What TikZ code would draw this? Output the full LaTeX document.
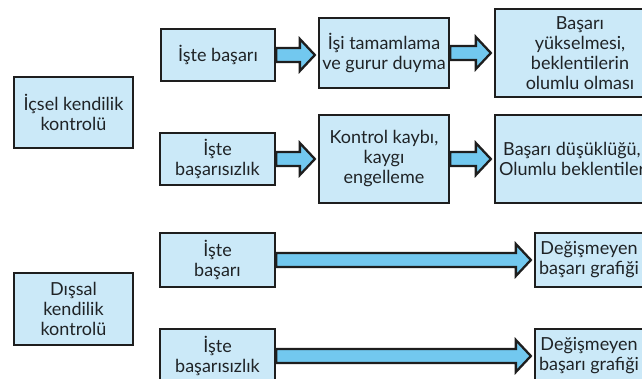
\documentclass[tikz,border=0pt]{standalone}
\usepackage{fontspec}
\setmainfont{Lato}
\usetikzlibrary{calc}
\definecolor{boxfill}{HTML}{CBE9F8}
\definecolor{arrfill}{HTML}{72C8EF}
\definecolor{edge}{HTML}{1E1E1E}
\definecolor{ink}{HTML}{1F2326}
\tikzset{
  txt/.style={font=\fontsize{18}{20}\selectfont, text=ink, align=center},
  box/.style={txt, draw=edge, line width=2.3pt, fill=boxfill, inner sep=2pt},
  barrow/.style={draw=edge, line width=2.3pt, fill=arrfill, line join=miter},
}
\newcommand{\blockarrow}[2]{%
  \draw[barrow] let \p1=(#1.east), \p2=(#2.west) in
    (\x1,\y1-7pt) -- (\x2-18pt,\y1-7pt) -- (\x2-18pt,\y1-16pt) -- (\x2-3pt,\y1)
    -- (\x2-18pt,\y1+16pt) -- (\x2-18pt,\y1+7pt) -- (\x1,\y1+7pt) -- cycle;}
\begin{document}
\begin{tikzpicture}[x=1pt,y=-1pt]
\useasboundingbox (0,0) rectangle (642,378);
\clip (0,0) rectangle (642,378);
% left boxes
\node[box, minimum width=119pt, minimum height=71pt] (ic) at (73.5,112.5) {İçsel kendilik\\kontrolü};
\node[box, minimum width=119pt, minimum height=72pt] (dis) at (73.5,309) {Dışsal\\kendilik\\kontrolü};
% row 1
\node[box, minimum width=114pt, minimum height=52pt] (b1) at (218,55) {İşte başarı};
\node[box, minimum width=130pt, minimum height=70pt] (c1) at (384,53) {İşi tamamlama\\ve gurur duyma};
\node[box, minimum width=170pt, minimum height=88pt] (d1) at (580,53) {Başarı\\yükselmesi,\\beklentilerin\\olumlu olması};
% row 2
\node[box, minimum width=115pt, minimum height=52pt] (b2) at (217.5,159) {İşte\\başarısızlık};
\node[box, minimum width=130pt, minimum height=88pt] (c2) at (384,159) {Kontrol kaybı,\\kaygı\\engelleme};
\node[box, minimum width=170pt, minimum height=88pt] (d2) at (580,159) {};
\node[txt] (d2t) at (572,159) {Başarı düşüklüğü,\\Olumlu beklentiler};
% row 3
\node[box, minimum width=115pt, minimum height=54pt] (b3) at (217.5,260) {İşte\\başarı};
\node[box, minimum width=108pt, minimum height=54pt] (d3) at (589,260) {Değişmeyen\\başarı grafiği};
% row 4
\node[box, minimum width=115pt, minimum height=54pt] (b4) at (217.5,356) {İşte\\başarısızlık};
\node[box, minimum width=108pt, minimum height=54pt] (d4) at (589,356) {Değişmeyen\\başarı grafiği};
% arrows
\blockarrow{b1}{c1}
\blockarrow{c1}{d1}
\blockarrow{b2}{c2}
\blockarrow{c2}{d2}
\blockarrow{b3}{d3}
\blockarrow{b4}{d4}
\end{tikzpicture}
\end{document}
